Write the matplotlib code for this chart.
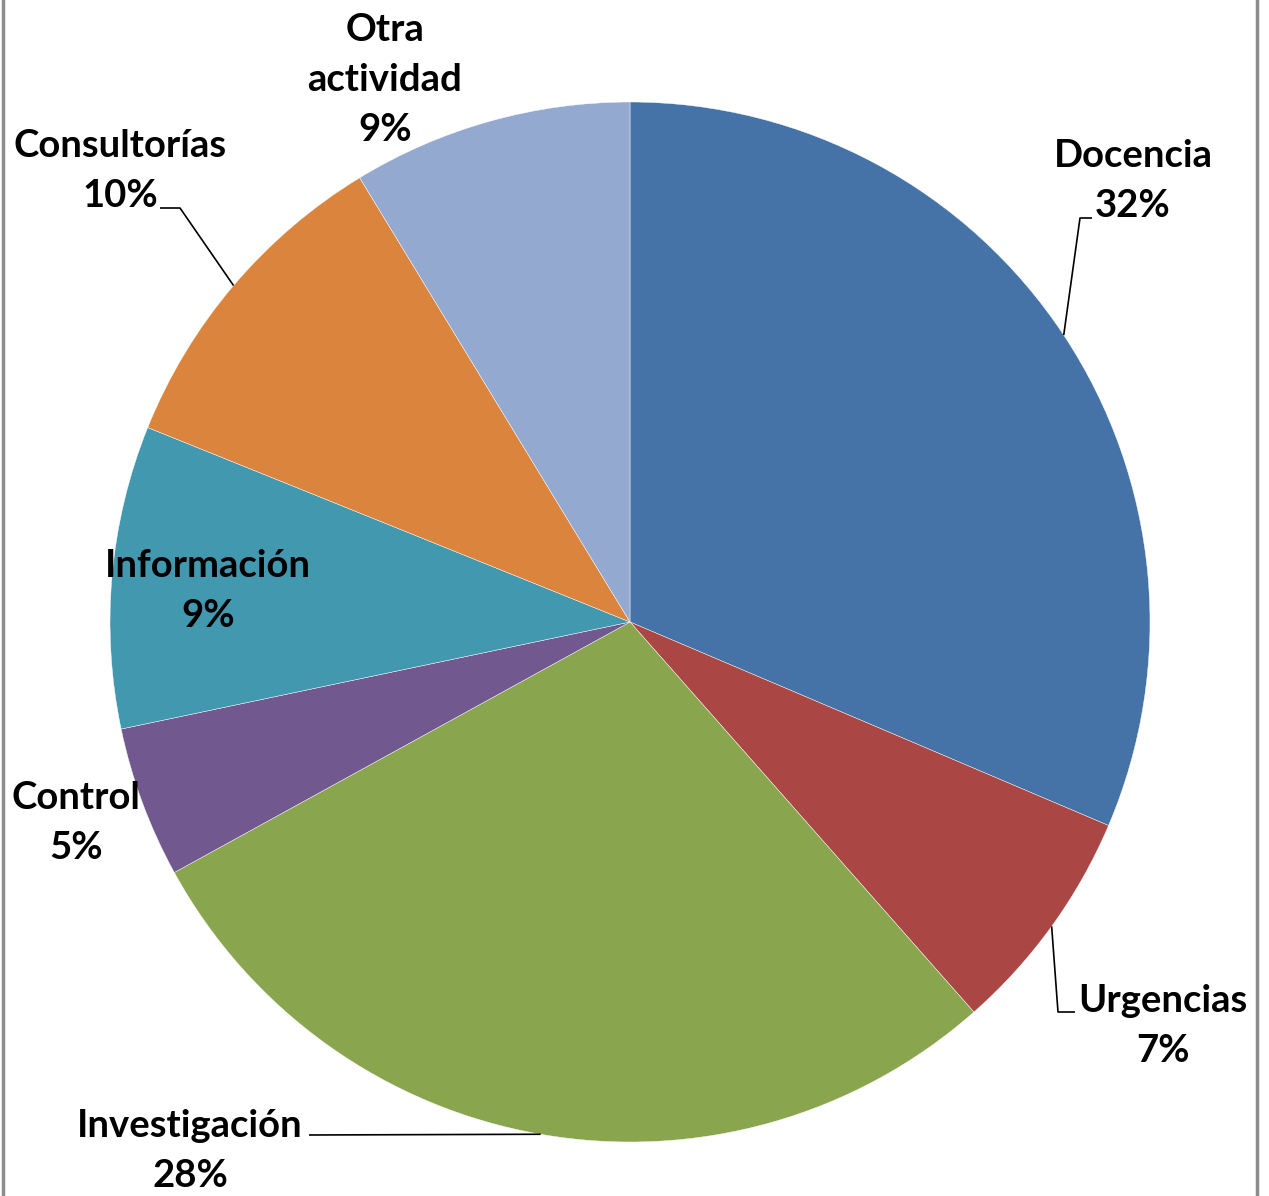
import numpy as np
import matplotlib
matplotlib.use("Agg")
import matplotlib.pyplot as plt
from matplotlib.lines import Line2D

categories = ["Docencia", "Urgencias", "Investigación", "Control",
              "Información", "Consultorías", "Otra\nactividad"]
shares = [31.4, 7.1, 28.5, 4.7, 9.4, 10.2, 8.7]
pct_labels = ["32%", "7%", "28%", "5%", "9%", "10%", "9%"]
colors = ["#4572A7", "#AA4643", "#89A54E", "#71588F",
          "#4198AF", "#DB843D", "#93A9CF"]

W, H = 1269, 1196
plt.rcParams['font.family'] = ['Lato', 'DejaVu Sans']

fig = plt.figure(figsize=(W / 100, H / 100), dpi=100)
ax = fig.add_axes([0, 0, 1, 1])

cx, cy, r = 630, H - 622, 520
wedges, _ = ax.pie(shares, colors=colors, startangle=90, counterclock=False,
                   center=(cx, cy), radius=r, frame=True,
                   wedgeprops=dict(edgecolor='white', linewidth=0.3))
ax.set_xlim(0, W)
ax.set_ylim(0, H)
ax.set_aspect('equal')
ax.axis('off')

# label text positions (pixel coords, y from top) and leader elbows
label_pos = [(1133, 181), (1163, 1026), (190, 1151), (76, 823),
             (208, 591), (120, 171), (385, 80)]
leaders = {
    0: [(1080, 218), (1092, 218)],
    1: [(1058, 1012), (1075, 1012)],
    2: [(309, 1135)],
    5: [(180, 208), (160, 208)],
}

for i, w in enumerate(wedges):
    x, y = label_pos[i]
    ax.text(x, H - y, f"{categories[i]}\n{pct_labels[i]}", ha='center', va='center',
            fontsize=27.5, fontweight='bold', linespacing=1.58, color='black')
    if i in leaders:
        mid = np.deg2rad((w.theta1 + w.theta2) / 2)
        pts = [(cx + r * np.cos(mid), cy + r * np.sin(mid))]
        pts += [(px, H - py) for px, py in leaders[i]]
        xs, ys = zip(*pts)
        ax.plot(xs, ys, color='black', lw=1.2, solid_capstyle='butt')

# frame sides
for fx in (3 / W, 1257 / W):
    fig.add_artist(Line2D([fx, fx], [0, 1], color='#8c8c8c', lw=2.5,
                          transform=fig.transFigure))

fig.savefig("out.png", dpi=100)
